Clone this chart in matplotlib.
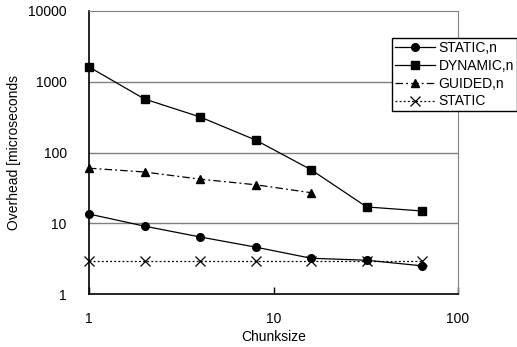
import matplotlib
matplotlib.use("Agg")
import matplotlib.pyplot as plt
from matplotlib.ticker import FixedLocator, NullLocator, FixedFormatter

plt.rcParams['font.family'] = ['Liberation Sans', 'DejaVu Sans']

chunksize = [1, 2, 4, 8, 16, 32, 64]
static_n = [13.5, 9.1, 6.4, 4.6, 3.2, 3.0, 2.5]
dynamic_n = [1620, 570, 318, 150, 57, 17, 14.9]
guided_chunks = [1, 2, 4, 8, 16]
guided_n = [60, 53, 42, 35, 27]
static = [2.9, 2.9, 2.9, 2.9, 2.9, 2.9, 2.9]

x_ticks = [1, 10, 100]
x_labels = ['1', '10', '100']
y_ticks = [1, 10, 100, 1000, 10000]
y_labels = ['1', '10', '100', '1000', '10000']

W, H = 517, 347
fig = plt.figure(figsize=(W / 100, H / 100), dpi=100)
ax = fig.add_axes([89 / W, 1 - 294 / H, 369 / W, 283 / H])

ax.set_xscale('log')
ax.set_yscale('log')
ax.set_xlim(1, 100)
ax.set_ylim(1, 10000)

for y in [10, 100, 1000]:
    ax.axhline(y, color='#808080', lw=1.0, zorder=1)

lw = 0.9
ax.plot(chunksize, static_n, color='black', lw=lw, marker='o', ms=5.5,
        label='STATIC,n', zorder=3, clip_on=False)
ax.plot(chunksize, dynamic_n, color='black', lw=lw, marker='s', ms=6,
        label='DYNAMIC,n', zorder=3, clip_on=False)
ax.plot(guided_chunks, guided_n, color='black', lw=lw, marker='^', ms=6,
        dashes=(6, 2.5, 1.5, 2.5), label='GUIDED,n', zorder=3, clip_on=False)
ax.plot(chunksize, static, color='black', lw=lw, marker='x', ms=7, mew=0.9,
        dashes=(1.5, 1.8), label='STATIC', zorder=3, clip_on=False)

ax.xaxis.set_major_locator(FixedLocator(x_ticks))
ax.xaxis.set_major_formatter(FixedFormatter(x_labels))
ax.xaxis.set_minor_locator(NullLocator())
ax.yaxis.set_major_locator(FixedLocator(y_ticks))
ax.yaxis.set_major_formatter(FixedFormatter(y_labels))
ax.yaxis.set_minor_locator(NullLocator())

ax.tick_params(axis='x', direction='in', length=5, width=1, pad=13, labelsize=10)
ax.tick_params(axis='y', direction='in', length=0, pad=16, labelsize=10)

ax.spines['left'].set_color('black')
ax.spines['bottom'].set_color('black')
ax.spines['left'].set_linewidth(1.2)
ax.spines['bottom'].set_linewidth(1.2)
ax.spines['top'].set_color('#808080')
ax.spines['right'].set_color('#808080')

ax.set_xlabel('Chunksize', fontsize=10, labelpad=3)
ax.set_ylabel('Overhead [microseconds', fontsize=10)
ax.yaxis.set_label_coords(-0.185, 0.5)

leg = ax.legend(loc='upper left', bbox_to_anchor=(392 / W, 1 - 38 / H),
                bbox_transform=fig.transFigure, frameon=True, fancybox=False,
                edgecolor='black', framealpha=1, fontsize=10, handlelength=2.9,
                labelspacing=0.28, borderpad=0.2, handletextpad=0.25,
                borderaxespad=0)
leg.get_frame().set_linewidth(1.0)

fig.savefig('out.png', dpi=100)
